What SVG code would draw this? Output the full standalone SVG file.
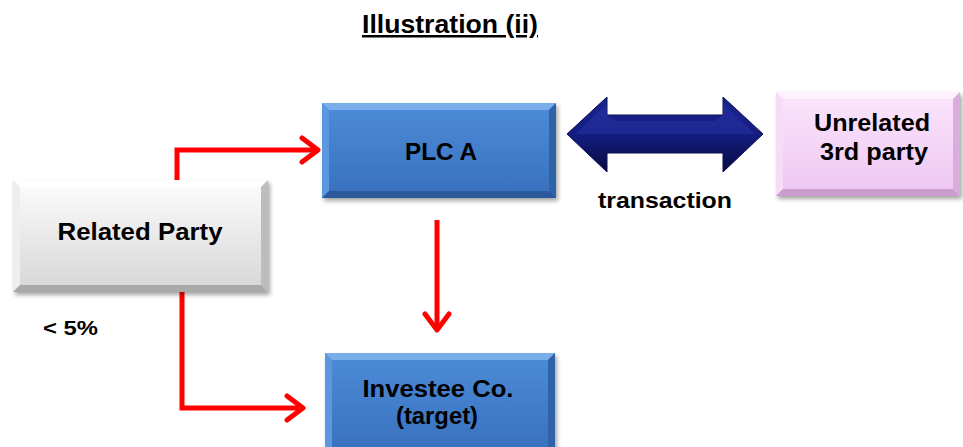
<svg xmlns="http://www.w3.org/2000/svg" width="963" height="447" viewBox="0 0 963 447">
<defs>
<style>
text{font-family:"Liberation Sans",Arial,sans-serif;font-weight:bold;fill:#000}
.lbl{font-size:23px;text-anchor:middle}
.conn{fill:none;stroke:#FF0000;stroke-width:5;stroke-linejoin:miter}
</style>
<filter id="sh" x="-10%" y="-10%" width="125%" height="130%">
<feDropShadow dx="2" dy="3" stdDeviation="2" flood-color="#000" flood-opacity="0.35"/>
</filter>
<linearGradient id="gBlue" x1="0" y1="0" x2="0" y2="1"><stop offset="0" stop-color="#4D8CD8"/><stop offset="1" stop-color="#3870BE"/></linearGradient>
<linearGradient id="gGray" x1="0" y1="0" x2="0" y2="1"><stop offset="0" stop-color="#FDFDFD"/><stop offset="1" stop-color="#D6D6D6"/></linearGradient>
<linearGradient id="gPink" x1="0" y1="0" x2="0" y2="1"><stop offset="0" stop-color="#FCE6FC"/><stop offset="1" stop-color="#EDC6F2"/></linearGradient>
<linearGradient id="gNavy" x1="0" y1="0" x2="0" y2="1"><stop offset="0" stop-color="#1A2590"/><stop offset="0.5" stop-color="#141C80"/><stop offset="1" stop-color="#060A40"/></linearGradient>
<marker id="ah" viewBox="0 0 30 30" markerWidth="30" markerHeight="30" refX="24" refY="15" orient="auto" markerUnits="userSpaceOnUse">
<path d="M8,3 L24,15 L8,27" fill="none" stroke="#FF0000" stroke-width="5" stroke-linecap="round" stroke-linejoin="round"/>
</marker>
</defs>
<rect width="963" height="447" fill="#FFFFFF"/>

<g id="title">
<text x="450" y="33" style="font-size:25px;text-anchor:middle;text-decoration:underline" textLength="176" lengthAdjust="spacingAndGlyphs">Illustration (ii)</text>
</g>

<g id="connectors">
<path class="conn" d="M177,181 V150 H318" marker-end="url(#ah)"/>
<path class="conn" d="M182,291 V408 H303" marker-end="url(#ah)"/>
<path class="conn" d="M437,220 V330" marker-end="url(#ah)"/>
<g id="transaction-arrow">
<polygon points="567,134 607,97 607,115 723,115 723,97 763,134 723,172 723,153 607,153 607,172" fill="url(#gNavy)" stroke="#0A0F50" stroke-width="1"/>
<polygon points="575,134 607,104 607,115 615,121 715,121 723,115 723,104 755,134 723,134 607,134" fill="#2A38A8" opacity="0.45"/>
<text x="665" y="208" style="font-size:22px;text-anchor:middle" textLength="134" lengthAdjust="spacingAndGlyphs">transaction</text>
</g>
</g>

<g id="node-plca">
<g filter="url(#sh)">
<rect x="322" y="103" width="234" height="95" fill="url(#gBlue)"/>
<polygon points="322,103 556,103 549,110 329,110" fill="#7AAEEA"/>
<polygon points="322,103 329,110 329,191 322,198" fill="#5C98E0"/>
<polygon points="556,103 556,198 549,191 549,110" fill="#2F63AA"/>
<polygon points="322,198 329,191 549,191 556,198" fill="#2A5A9C"/>
</g>
<text class="lbl" x="441" y="160" textLength="72" lengthAdjust="spacingAndGlyphs">PLC A</text>
</g>

<g id="node-related">
<g filter="url(#sh)">
<rect x="13" y="180" width="255" height="112" fill="url(#gGray)"/>
<polygon points="13,180 268,180 261,187 20,187" fill="#FFFFFF"/>
<polygon points="13,180 20,187 20,285 13,292" fill="#EEEEEE"/>
<polygon points="268,180 268,292 261,285 261,187" fill="#BDBDBD"/>
<polygon points="13,292 20,285 261,285 268,292" fill="#A9A9A9"/>
</g>
<text class="lbl" x="140" y="240" textLength="165" lengthAdjust="spacingAndGlyphs">Related Party</text>
</g>

<g id="node-unrelated">
<g filter="url(#sh)">
<rect x="776" y="92" width="184" height="104" fill="url(#gPink)"/>
<polygon points="776,92 960,92 953,99 783,99" fill="#FFF2FF"/>
<polygon points="776,92 783,99 783,189 776,196" fill="#F7DCF8"/>
<polygon points="960,92 960,196 953,189 953,99" fill="#D9AEDD"/>
<polygon points="776,196 783,189 953,189 960,196" fill="#C99DCD"/>
</g>
<text class="lbl" x="872" y="131" textLength="116" lengthAdjust="spacingAndGlyphs">Unrelated</text>
<text class="lbl" x="874" y="160" textLength="108" lengthAdjust="spacingAndGlyphs">3rd party</text>
</g>

<g id="node-investee">
<g filter="url(#sh)">
<rect x="325" y="353" width="230" height="100" fill="url(#gBlue)"/>
<polygon points="325,353 555,353 548,360 332,360" fill="#7AAEEA"/>
<polygon points="325,353 332,360 332,453 325,453" fill="#5C98E0"/>
<polygon points="555,353 555,453 548,453 548,360" fill="#2F63AA"/>
</g>
<text class="lbl" x="438" y="397" textLength="151" lengthAdjust="spacingAndGlyphs">Investee Co.</text>
<text class="lbl" x="437" y="424" textLength="82" lengthAdjust="spacingAndGlyphs">(target)</text>
</g>

<g id="label-pct">
<text x="43" y="335" style="font-size:20px" textLength="55" lengthAdjust="spacingAndGlyphs">&lt; 5%</text>
</g>
</svg>
